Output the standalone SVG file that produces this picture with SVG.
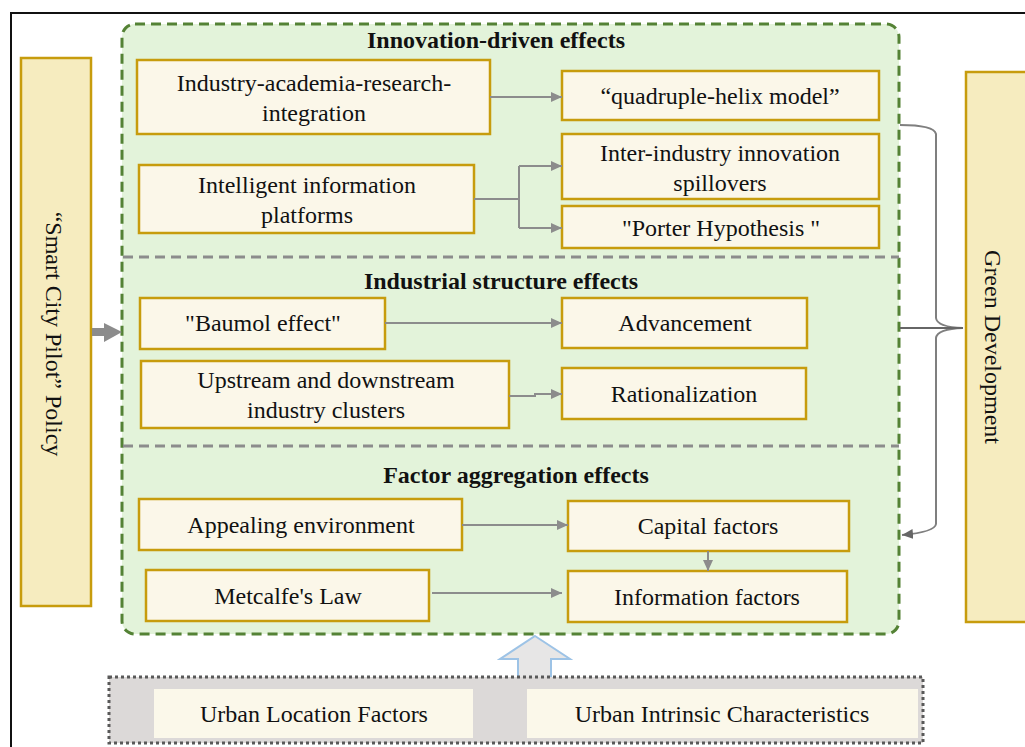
<svg xmlns="http://www.w3.org/2000/svg" width="1025" height="747" viewBox="0 0 1025 747">
<defs>
<style>
text{font-family:"Liberation Serif","Times New Roman",serif;font-size:24px;fill:#111;}
.t{text-anchor:middle;}
.h{font-weight:bold;text-anchor:middle;}
.box{fill:#fbf7e9;stroke:#c79c0d;stroke-width:2.5;}
.side{fill:#f6ecbf;stroke:#c79c0d;stroke-width:2.5;}
.con{fill:none;stroke:#8c8c8c;stroke-width:2;}
.div{fill:none;stroke:#8c8c8c;stroke-width:3;stroke-dasharray:10 6;}
</style>
<marker id="ar" markerWidth="12" markerHeight="12" refX="11" refY="6" orient="auto" markerUnits="userSpaceOnUse">
<path d="M0,1 L11,6 L0,11 Z" fill="#8c8c8c"/>
</marker>
<marker id="ard" markerWidth="12" markerHeight="12" refX="11" refY="6" orient="auto" markerUnits="userSpaceOnUse">
<path d="M0,1 L11,6 L0,11 Z" fill="#666"/>
</marker>
</defs>
<rect x="0" y="0" width="1025" height="747" fill="#fff"/>
<rect x="11" y="13" width="1030" height="760" fill="none" stroke="#111" stroke-width="2"/>

<g id="container">
<rect x="122" y="24" width="777" height="610" rx="13" fill="#e3f3da" stroke="#548235" stroke-width="3" stroke-dasharray="10 6"/>
<line class="div" x1="123" y1="257" x2="899" y2="257"/>
<line class="div" x1="123" y1="446" x2="899" y2="446"/>
<text class="h" x="496" y="48">Innovation-driven effects</text>
<text class="h" x="501" y="289">Industrial structure effects</text>
<text class="h" x="516" y="483">Factor aggregation effects</text>
</g>

<g id="smart-city">
<rect class="side" x="21" y="58" width="70" height="548"/>
<text class="t" dominant-baseline="central" transform="translate(54,334) rotate(90)">“Smart City Pilot” Policy</text>
</g>
<g id="green-dev">
<rect class="side" x="966" y="72" width="70" height="550"/>
<text class="t" dominant-baseline="central" transform="translate(993,347) rotate(90)">Green Development</text>
</g>

<g id="n1"><rect class="box" x="137" y="60" width="353" height="74"/>
<text class="t" x="314" y="91">Industry-academia-research-</text>
<text class="t" x="314" y="121">integration</text></g>
<g id="n2"><rect class="box" x="562" y="71" width="317" height="49"/>
<text class="t" x="720" y="104">“quadruple-helix model”</text></g>
<g id="n3"><rect class="box" x="139" y="165" width="335" height="68"/>
<text class="t" x="307" y="193">Intelligent information</text>
<text class="t" x="307" y="223">platforms</text></g>
<g id="n4"><rect class="box" x="562" y="134" width="317" height="65"/>
<text class="t" x="720" y="161">Inter-industry innovation</text>
<text class="t" x="720" y="191">spillovers</text></g>
<g id="n5"><rect class="box" x="562" y="206" width="317" height="42"/>
<text class="t" x="721" y="236">"Porter Hypothesis "</text></g>
<g id="n6"><rect class="box" x="140" y="298" width="245" height="51"/>
<text class="t" x="263" y="331">"Baumol effect"</text></g>
<g id="n7"><rect class="box" x="141" y="361" width="368" height="67"/>
<text class="t" x="326" y="388">Upstream and downstream</text>
<text class="t" x="326" y="418">industry clusters</text></g>
<g id="n8"><rect class="box" x="562" y="298" width="245" height="50"/>
<text class="t" x="685" y="331">Advancement</text></g>
<g id="n9"><rect class="box" x="562" y="368" width="244" height="51"/>
<text class="t" x="684" y="402">Rationalization</text></g>
<g id="n10"><rect class="box" x="139" y="499" width="323" height="51"/>
<text class="t" x="301" y="533">Appealing environment</text></g>
<g id="n11"><rect class="box" x="146" y="570" width="283" height="51"/>
<text class="t" x="288" y="604">Metcalfe's Law</text></g>
<g id="n12"><rect class="box" x="568" y="501" width="281" height="50"/>
<text class="t" x="708" y="534">Capital factors</text></g>
<g id="n13"><rect class="box" x="568" y="571" width="279" height="51"/>
<text class="t" x="707" y="605">Information factors</text></g>

<g id="connectors">
<path class="con" d="M490,97 L562,97" marker-end="url(#ar)"/>
<path class="con" d="M474,199 L519,199 M519,166 L519,228"/>
<path class="con" d="M519,166 L562,166" marker-end="url(#ar)"/>
<path class="con" d="M519,228 L562,228" marker-end="url(#ar)"/>
<path class="con" d="M385,323 L562,323" marker-end="url(#ar)"/>
<path class="con" d="M509,396 L535,396 L535,394 L562,394" marker-end="url(#ar)"/>
<path class="con" d="M462,525 L568,525" marker-end="url(#ar)"/>
<path class="con" d="M432,593 L562,593" marker-end="url(#ar)"/>
<path class="con" d="M708,551 L708,571" marker-end="url(#ar)"/>
<polygon points="92,328 104,328 104,323 122,332 104,342 104,336 92,336" fill="#8c8c8c"/>
<path d="M900,125 Q934,125 936,134 L936,318 Q937,327 963,328 Q937,329 936,338 L936,524 Q935,532 902,535" fill="none" stroke="#7f7f7f" stroke-width="2" marker-end="url(#ard)"/>
<path d="M900,328 L963,328" fill="none" stroke="#666" stroke-width="2"/>
<polygon points="535,636 570,659 551,659 551,679 518,679 518,659 500,659" fill="#e7e6e6" stroke="#9dc3e6" stroke-width="2"/>
</g>

<g id="urban">
<rect x="109" y="677" width="814" height="66" fill="#dcd9d8" stroke="#595959" stroke-width="3" stroke-dasharray="3 3"/>
<g id="n14"><rect x="154" y="689" width="319" height="49" fill="#fbf8ea"/>
<text class="t" x="314" y="722">Urban Location Factors</text></g>
<g id="n15"><rect x="527" y="689" width="391" height="49" fill="#fbf8ea"/>
<text class="t" x="722" y="722">Urban Intrinsic Characteristics</text></g>
</g>
</svg>
